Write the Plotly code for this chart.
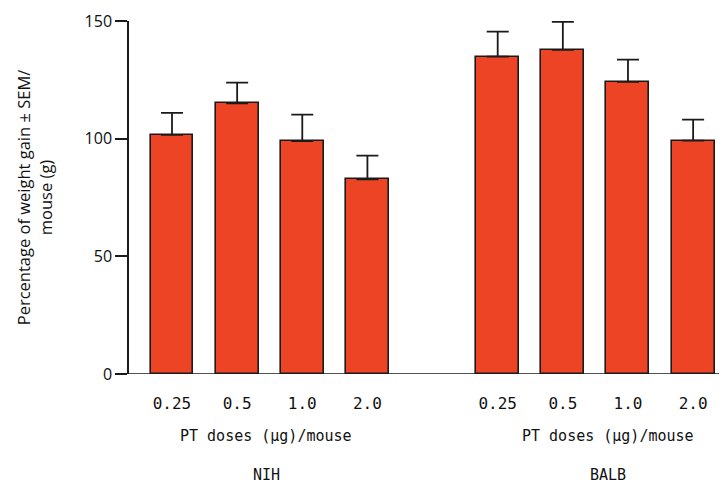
import plotly.graph_objects as go

doses = ["0.25", "0.5", "1.0", "2.0"]
nih_values = [101.6, 115.0, 99.0, 82.7]
nih_sem = [9.4, 8.8, 11.2, 10.1]
balb_values = [134.9, 137.7, 124.1, 99.2]
balb_sem = [10.6, 11.9, 9.5, 8.9]
groups = ["NIH", "BALB"]
x_title = "PT doses (µg)/mouse"
y_title = "Percentage of weight gain ± SEM/<br>mouse (g)"
y_ticks = [0, 50, 100, 150]

nih_x = list(range(len(doses)))
balb_x = [i + len(doses) + 1 for i in range(len(doses))]

bar_color = "#EE4426"
line_col = "#1a1a1a"
mono = "DejaVu Sans Mono"

fig = go.Figure()
for xs, vals, errs in [(nih_x, nih_values, nih_sem), (balb_x, balb_values, balb_sem)]:
    fig.add_trace(go.Bar(
        x=xs, y=vals, width=0.66,
        marker=dict(color=bar_color, line=dict(color=line_col, width=1.6)),
        error_y=dict(type="data", symmetric=False, array=errs,
                     arrayminus=[0] * len(errs), color=line_col,
                     thickness=1.8, width=11),
        showlegend=False,
    ))

# page body has an 8px margin; compensate so the figure fits the 727x484 window
W, H = 719, 476
ml, mr, mt, mb = 121, 0, 13, 110
pw = W - ml - mr
ph = H - mt - mb

fig.update_layout(
    width=W, height=H,
    margin=dict(l=ml, r=mr, t=mt, b=mb),
    plot_bgcolor="white", paper_bgcolor="white",
    bargap=0,
    xaxis=dict(
        range=[-0.66, 8.52],
        tickvals=nih_x + balb_x, ticktext=doses + doses,
        ticks="", showline=False, showgrid=False, zeroline=False,
        tickfont=dict(family=mono, size=16, color="#111"),
        ticklabelstandoff=18,
    ),
    yaxis=dict(
        range=[0, 150], tickvals=y_ticks,
        ticks="outside", ticklen=12, tickwidth=1.5, tickcolor=line_col,
        showline=True, linecolor=line_col, linewidth=1.5,
        showgrid=False, zeroline=False,
        tickfont=dict(family="Open Sans", size=16, color="#111"),
        title=dict(text=y_title, font=dict(family="Open Sans", size=16.5, color="#111"),
                   standoff=28),
    ),
)

# x-axis line extending slightly left of the y-axis
fig.add_shape(type="line", xref="paper", yref="y",
              x0=-12 / pw, x1=1, y0=0, y1=0,
              line=dict(color=line_col, width=1.5))

group_label_x = [1.45, 6.69]
for gx, gname in zip(group_label_x, groups):
    fig.add_annotation(x=gx, xref="x", y=-62 / ph, yref="paper",
                       text=x_title, showarrow=False, yanchor="middle",
                       font=dict(family=mono, size=15, color="#111"))
    fig.add_annotation(x=gx, xref="x", y=-101 / ph, yref="paper",
                       text=gname, showarrow=False, yanchor="middle",
                       font=dict(family=mono, size=15, color="#111"))

fig.write_html("out.html")
